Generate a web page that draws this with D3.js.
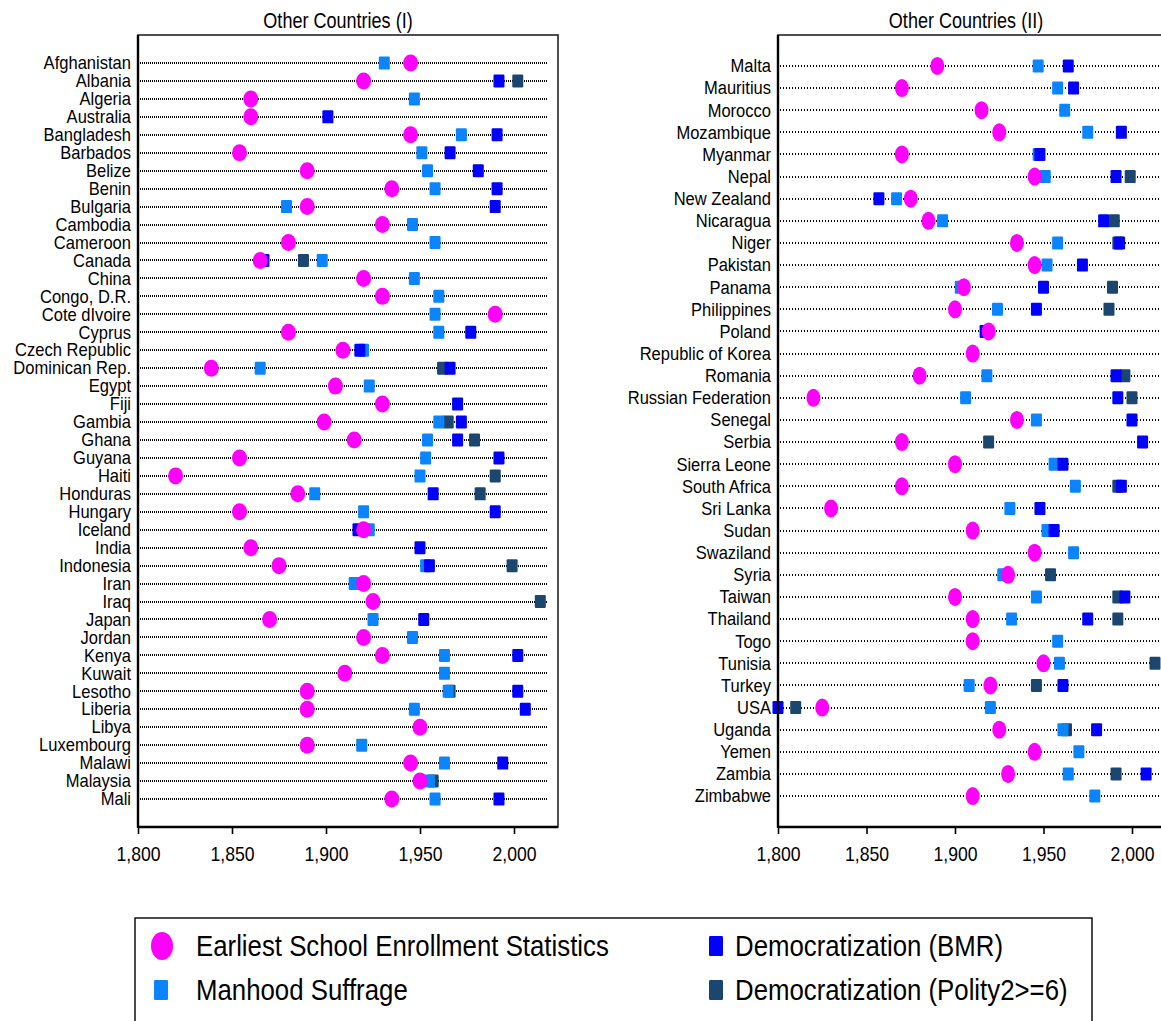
<!DOCTYPE html>
<html>
<head>
<meta charset="utf-8">
<script src="https://cdn.jsdelivr.net/npm/d3@7"></script>
<style>
  body { margin: 0; background: #fff; }
  svg { display: block; }
  text { font-family: 'Liberation Sans', Arial, sans-serif; fill: #000; }
</style>
</head>
<body>
<svg id="chart" width="1161" height="1021"></svg>
<script>
// ---- Panel I: countries A–Mali ----
const countriesI = ["Afghanistan","Albania","Algeria","Australia","Bangladesh","Barbados","Belize","Benin",
  "Bulgaria","Cambodia","Cameroon","Canada","China","Congo, D.R.","Cote dIvoire","Cyprus","Czech Republic",
  "Dominican Rep.","Egypt","Fiji","Gambia","Ghana","Guyana","Haiti","Honduras","Hungary","Iceland","India",
  "Indonesia","Iran","Iraq","Japan","Jordan","Kenya","Kuwait","Lesotho","Liberia","Libya","Luxembourg",
  "Malawi","Malaysia","Mali"];
const enrollmentI = [1945,1920,1860,1860,1945,1854,1890,1935,1890,1930,1880,1865,1920,1930,1990,1880,1909,
  1839,1905,1930,1899,1915,1854,1820,1885,1854,1920,1860,1875,1920,1925,1870,1920,1930,1910,1890,1890,1950,
  1890,1945,1950,1935];
const suffrageI = [1931,null,1947,null,1972,1951,1954,1958,1879,1946,1958,1898,1947,1960,1958,1960,1920,
  1865,1923,null,1960,1954,1953,1950,1894,1920,1923,null,1953,1915,null,1925,1946,1963,1963,1965,1947,null,
  1919,1963,1955,1958];
const bmrI = [null,1992,null,1901,1991,1966,1981,1991,1990,null,null,1867,null,null,null,1977,1918,
  1966,null,1970,1972,1970,1992,null,1957,1990,1917,1950,1955,null,null,1952,null,2002,null,2002,2006,null,
  1890,1994,null,1992];
const polityI = [null,2002,null,null,null,null,null,null,null,null,null,1888,null,null,null,null,null,
  1962,null,null,1965,1979,null,1990,1982,null,null,null,1999,null,2014,null,null,null,null,1966,null,null,
  null,null,1957,null];

// ---- Panel II: countries Malta–Zimbabwe ----
const countriesII = ["Malta","Mauritius","Morocco","Mozambique","Myanmar","Nepal","New Zealand","Nicaragua",
  "Niger","Pakistan","Panama","Philippines","Poland","Republic of Korea","Romania","Russian Federation",
  "Senegal","Serbia","Sierra Leone","South Africa","Sri Lanka","Sudan","Swaziland","Syria","Taiwan",
  "Thailand","Togo","Tunisia","Turkey","USA","Uganda","Yemen","Zambia","Zimbabwe"];
const enrollmentII = [1890,1870,1915,1925,1870,1945,1875,1885,1935,1945,1905,1900,1919,1910,1880,1820,
  1935,1870,1900,1870,1830,1910,1945,1930,1900,1910,1910,1950,1920,1825,1925,1945,1930,1910];
const suffrageII = [1947,1958,1962,1975,1947,1951,1867,1893,1958,1952,1903,1924,null,null,1918,1906,
  1946,null,1956,1968,1931,1952,1967,1927,1946,1932,1958,1959,1908,1920,1961,1970,1964,1979];
const bmrII = [1964,1967,null,1994,1948,1991,1857,1984,1993,1972,1950,1946,1917,null,1991,1992,
  2000,2006,1961,1994,1948,1956,null,null,1996,1975,null,null,1961,1800,1980,null,2008,null];
const polityII = [null,null,null,null,null,1999,null,1990,1992,null,1989,1987,null,null,1996,2000,
  null,1919,null,1992,null,null,null,1954,1992,1992,null,2013,1946,1810,1963,null,1991,null];

// ---- Axis ticks and legend ----
const yearTicks = [1800, 1850, 1900, 1950, 2000];
const panelTitles = ["Other Countries (I)", "Other Countries (II)"];
const legendLabels = ["Earliest School Enrollment Statistics", "Manhood Suffrage",
  "Democratization (BMR)", "Democratization (Polity2>=6)"];

const colors = {
  enrollment: "#ff00ff",
  suffrage: "#0a84ff",
  bmr: "#0000ff",
  polity: "#1b466f"
};

const svg = d3.select("#chart");
svg.append("rect").attr("width", 1161).attr("height", 1021).attr("fill", "#fff");

const plotTop = 35, plotBottom = 827;

// narrow text: place with a transform and squeeze horizontally
function narrowText(sel, x, y, squeeze) {
  return sel.attr("x", 0).attr("y", 0)
    .attr("transform", (d, i) => {
      const xx = typeof x === "function" ? x(d, i) : x;
      const yy = typeof y === "function" ? y(d, i) : y;
      return `translate(${xx},${yy}) scale(${squeeze},1)`;
    });
}

function drawPanel(opts) {
  const { left, width, domainMax, lineEnd, padding, title, titleX,
          countries, enrollment, suffrage, bmr, polity, dash, dashWidth, rx, ry,
          labelSize, labelSqueeze } = opts;
  const g = svg.append("g");
  const x = d3.scaleLinear().domain([1800, domainMax]).range([left, left + width]);
  const y = d3.scalePoint().domain(countries).range([plotTop, plotBottom]).padding(padding);

  // title
  narrowText(g.append("text"), titleX, 20, 0.82)
    .attr("text-anchor", "middle").attr("dominant-baseline", "central")
    .style("font-size", "22px").text(title);

  // frame
  g.append("rect").attr("x", left).attr("y", plotTop).attr("width", width).attr("height", plotBottom - plotTop)
    .attr("fill", "none").attr("stroke", "#222").attr("stroke-width", 1.6);

  // dotted guide lines
  g.append("g").selectAll("line").data(countries).join("line")
    .attr("x1", Math.round(x(1800)) + 2).attr("x2", Math.min(x(lineEnd), 1161))
    .attr("y1", d => Math.round(y(d))).attr("y2", d => Math.round(y(d)))
    .attr("stroke", "#000").attr("stroke-width", dashWidth).attr("stroke-dasharray", dash);

  // country labels
  narrowText(g.append("g").selectAll("text").data(countries).join("text"), left - 7, d => y(d), labelSqueeze)
    .attr("text-anchor", "end").attr("dominant-baseline", "central")
    .style("font-size", labelSize + "px").text(d => d);

  const sq = (vals, color) => {
    const pts = countries.map((c, i) => ({ c, v: vals[i] })).filter(d => d.v != null);
    g.append("g").selectAll("rect").data(pts).join("rect")
      .attr("x", d => x(d.v) - 5.5).attr("y", d => y(d.c) - 6.5)
      .attr("width", 11).attr("height", 13).attr("rx", 1.2)
      .attr("fill", color);
  };
  sq(polity, colors.polity);
  sq(suffrage, colors.suffrage);
  sq(bmr, colors.bmr);

  const ep = countries.map((c, i) => ({ c, v: enrollment[i] })).filter(d => d.v != null);
  g.append("g").selectAll("ellipse").data(ep).join("ellipse")
    .attr("cx", d => x(d.v)).attr("cy", d => y(d.c)).attr("rx", rx).attr("ry", ry)
    .attr("fill", colors.enrollment);

  // axis
  const axis = g.append("g").attr("transform", `translate(0,${plotBottom})`)
    .call(d3.axisBottom(x).tickValues(yearTicks).tickFormat(d3.format(",")).tickSizeOuter(0).tickSize(7).tickPadding(13));
  axis.select(".domain").remove();
  axis.selectAll(".tick line").attr("stroke", "#000").attr("stroke-width", 1.6);
  axis.selectAll(".tick text").style("font-size", "20px")
    .style("font-family", "'Liberation Sans',Arial,sans-serif")
    .attr("transform", "scale(0.88,1)");

  // heavier left and bottom axis lines
  g.append("line").attr("x1", left).attr("x2", left).attr("y1", plotTop).attr("y2", plotBottom + 1)
    .attr("stroke", "#000").attr("stroke-width", 2.4);
  g.append("line").attr("x1", left).attr("x2", left + width).attr("y1", plotBottom).attr("y2", plotBottom)
    .attr("stroke", "#000").attr("stroke-width", 2.4);
}

drawPanel({
  left: 138, width: 420, domainMax: 2023.4, lineEnd: 2018, padding: 1.56,
  title: panelTitles[0], titleX: 338,
  countries: countriesI, enrollment: enrollmentI, suffrage: suffrageI, bmr: bmrI, polity: polityI,
  dash: "1 1", dashWidth: 2, rx: 7.5, ry: 8.5, labelSize: 18, labelSqueeze: 0.92
});

drawPanel({
  left: 778, width: 420, domainMax: 2037.3, lineEnd: 2037.3, padding: 1.4,
  title: panelTitles[1], titleX: 966,
  countries: countriesII, enrollment: enrollmentII, suffrage: suffrageII, bmr: bmrII, polity: polityII,
  dash: "1 2", dashWidth: 2, rx: 7, ry: 9, labelSize: 19, labelSqueeze: 0.87
});

// ---- Legend ----
const lg = svg.append("g");
lg.append("rect").attr("x", 135).attr("y", 918).attr("width", 957).attr("height", 104)
  .attr("fill", "#fff").attr("stroke", "#000").attr("stroke-width", 1.4);

const legendItems = [
  { label: legendLabels[0], key: "enrollment", shape: "ellipse", x: 162, y: 946, tx: 196 },
  { label: legendLabels[1], key: "suffrage", shape: "rect", x: 161, y: 990, tx: 196 },
  { label: legendLabels[2], key: "bmr", shape: "rect", x: 716, y: 946, tx: 735 },
  { label: legendLabels[3], key: "polity", shape: "rect", x: 716, y: 990, tx: 735 }
];
legendItems.forEach(d => {
  if (d.shape === "ellipse") {
    lg.append("ellipse").attr("cx", d.x).attr("cy", d.y).attr("rx", 11).attr("ry", 14)
      .attr("fill", colors[d.key]);
  } else {
    lg.append("rect").attr("x", d.x - 7).attr("y", d.y - 10).attr("width", 14).attr("height", 20)
      .attr("rx", 1.2).attr("fill", colors[d.key]);
  }
  narrowText(lg.append("text"), d.tx, d.y, 0.86).attr("dominant-baseline", "central")
    .style("font-size", "30px").text(d.label);
});
</script>
</body>
</html>
